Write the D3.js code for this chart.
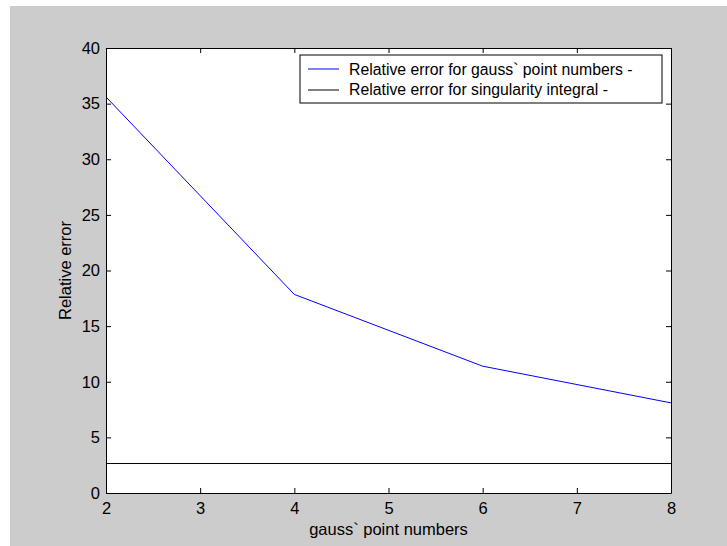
<!DOCTYPE html>
<meta charset="utf-8">
<body style="margin:0;background:#fff">
<div class="chart"></div>
<script src="https://d3js.org/d3.v7.min.js"></script>
<script>
    // values
    const gaussPoints = [2, 4, 6, 8];
    const gaussError = [35.6, 17.85, 11.4, 8.1];
    const singularError = 2.65;
    const xTicks = [2, 3, 4, 5, 6, 7, 8];
    const yTicks = [0, 5, 10, 15, 20, 25, 30, 35, 40];
    const legendLabels = ["Relative error for gauss` point numbers -", "Relative error for singularity integral -"];
    const legendColors = ["#0000ff", "#000000"];

    let width = 727, height = 546;
    let margin = {top: 48, right: 56, bottom: 53, left: 106};
    let font = "'Liberation Sans', Arial, sans-serif";

    let svg = d3.select(".chart").append("svg")
        .attr("width", width)
        .attr("height", height)
        .style("font-family", font);

    // gray figure background
    svg.append("rect")
        .attr("x", 10).attr("y", 6)
        .attr("width", width - 10).attr("height", height - 6)
        .attr("fill", "#cccccc");

    let x = d3.scaleLinear().domain([2, 8]).range([margin.left, width - margin.right]);
    let y = d3.scaleLinear().domain([0, 40]).range([height - margin.bottom, margin.top]);

    svg.append("rect")
        .attr("x", x(2)).attr("y", y(40))
        .attr("width", x(8) - x(2)).attr("height", y(0) - y(40))
        .attr("fill", "#fff");

    let g = svg.append("g");

    // data lines
    let line = d3.line().x((d, i) => x(gaussPoints[i])).y(d => y(d));
    g.append("path")
        .datum(gaussError)
        .attr("fill", "none")
        .attr("stroke", legendColors[0])
        .attr("stroke-width", 1)
        .attr("d", line);

    g.append("line")
        .attr("x1", x(2)).attr("x2", x(8))
        .attr("y1", y(singularError)).attr("y2", y(singularError))
        .attr("stroke", legendColors[1])
        .attr("stroke-width", 1);

    // axes, ticks inward on all four sides
    let tl = 5;
    let axBottom = svg.append("g")
        .attr("transform", `translate(0,${y(0)})`)
        .call(d3.axisBottom(x).tickValues(xTicks).tickFormat(d3.format("d")).tickSizeInner(-tl).tickSizeOuter(0).tickPadding(9));
    let axTop = svg.append("g")
        .attr("transform", `translate(0,${y(40)})`)
        .call(d3.axisTop(x).tickValues(xTicks).tickFormat("").tickSizeInner(-tl).tickSizeOuter(0));
    let axLeft = svg.append("g")
        .attr("transform", `translate(${x(2)},0)`)
        .call(d3.axisLeft(y).tickValues(yTicks).tickFormat(d3.format("d")).tickSizeInner(-tl).tickSizeOuter(0).tickPadding(6));
    let axRight = svg.append("g")
        .attr("transform", `translate(${x(8)},0)`)
        .call(d3.axisRight(y).tickValues(yTicks).tickFormat("").tickSizeInner(-tl).tickSizeOuter(0));

    [axBottom, axTop, axLeft, axRight].forEach(a => {
        a.select(".domain").attr("stroke", "#000").attr("stroke-width", 1);
        a.selectAll(".tick line").attr("stroke", "#000");
        a.selectAll("text").attr("fill", "#000").style("font-size", "16.5px").style("font-family", font);
    });

    // axis labels
    svg.append("text")
        .attr("x", (x(2) + x(8)) / 2)
        .attr("y", 535)
        .attr("text-anchor", "middle")
        .style("font-size", "16.5px")
        .text("gauss` point numbers");

    svg.append("text")
        .attr("transform", `translate(71,${(y(0) + y(40)) / 2}) rotate(-90)`)
        .attr("text-anchor", "middle")
        .style("font-size", "16.5px")
        .text("Relative error");

    // legend
    let lg = svg.append("g");
    lg.append("rect")
        .attr("x", 300).attr("y", 55)
        .attr("width", 362).attr("height", 48)
        .attr("fill", "#fff")
        .attr("stroke", "#000");
    legendLabels.forEach((t, i) => {
        lg.append("line")
            .attr("x1", 308).attr("x2", 339)
            .attr("y1", 69 + i * 21).attr("y2", 69 + i * 21)
            .attr("stroke", legendColors[i]);
        lg.append("text")
            .attr("x", 349).attr("y", 75 + i * 19.5)
            .style("font-size", "15.8px")
            .text(t);
    });
</script>
</body>
